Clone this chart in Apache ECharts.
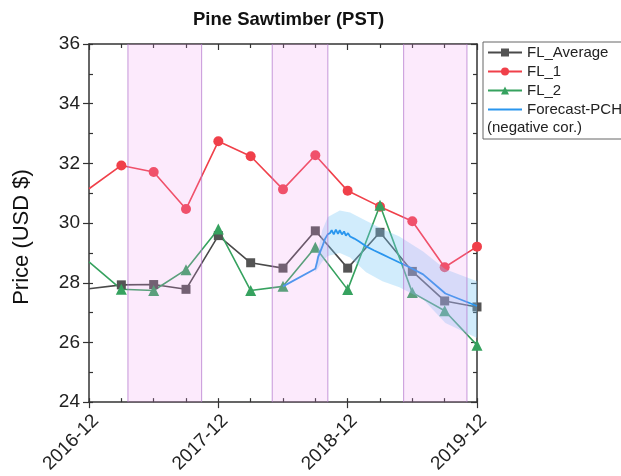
<!DOCTYPE html>
<html><head><meta charset="utf-8">
<script src="https://cdn.jsdelivr.net/npm/echarts@6/dist/echarts.min.js"></script>
<style>html,body{margin:0;padding:0;background:#fff}#c{width:621px;height:476px}</style>
</head><body><div id="c"></div>
<script>
// ---- data ----
const quarterDates = ['2016-12-01','2017-03-01','2017-06-01','2017-09-01','2017-12-01','2018-03-01','2018-06-01','2018-09-01','2018-12-01','2019-03-01','2019-06-01','2019-09-01','2019-12-01'];
const flAverage = [27.80, 27.93, 27.94, 27.78, 29.58, 28.67, 28.49, 29.74, 28.49, 29.69, 28.38, 27.39, 27.19];
const fl1       = [31.15, 31.93, 31.71, 30.47, 32.74, 32.24, 31.13, 32.27, 31.08, 30.55, 30.06, 28.52, 29.21];
const fl2       = [28.70, 27.78, 27.74, 28.44, 29.80, 27.74, 27.88, 29.19, 27.77, 30.60, 27.67, 27.06, 25.91];

const forecastDates = ['2018-06-01','2018-09-01','2018-09-06','2018-09-09','2018-09-20','2018-09-28','2018-10-06','2018-10-12','2018-10-17','2018-10-23','2018-10-29','2018-11-04','2018-11-09','2018-11-15','2018-11-21','2018-11-26','2018-12-02','2018-12-08','2018-12-20','2019-01-03','2019-01-23','2019-02-14','2019-03-08','2019-03-28','2019-04-25','2019-05-24','2019-07-01','2019-09-03','2019-12-01'];
const forecastValues = [27.88, 28.47, 28.70, 28.87, 29.20, 29.47, 29.63, 29.66, 29.76, 29.62, 29.78, 29.64, 29.76, 29.62, 29.72, 29.58, 29.66, 29.55, 29.48, 29.38, 29.22, 29.08, 28.95, 28.84, 28.68, 28.52, 28.28, 27.64, 27.22];

const bandDates = ['2018-09-01','2018-09-20','2018-10-06','2018-11-09','2018-12-08','2019-01-23','2019-03-08','2019-04-25','2019-07-01','2019-09-03','2019-12-01'];
const bandLower = [28.35, 28.70, 28.90, 29.00, 28.85, 28.35, 28.05, 27.85, 27.45, 26.65, 26.15];
const bandUpper = [28.60, 29.75, 30.20, 30.42, 30.35, 30.08, 29.80, 29.55, 29.05, 28.45, 28.05];

const shadeStart = ['2017-03-20','2018-05-01','2019-05-07'];
const shadeEnd   = ['2017-10-15','2018-10-06','2019-11-03'];

const xTickLabels = ['2016-12','2017-12','2018-12','2019-12'];

// ---- helpers ----
function monthPos(s){
  const p = s.split('-').map(Number);
  const dim = new Date(p[0], p[1], 0).getDate();
  return (p[0]-2016)*12 + (p[1]-12) + (p[2]-1)/dim;
}
function pairs(dates, vals, hideFirst){
  return dates.map((d,i)=>{
    const v = [monthPos(d), vals[i]];
    return (hideFirst && i===0) ? {value:v, symbol:'none'} : v;
  });
}

const FONT = 'Liberation Sans, Arial, sans-serif';
const AX = '#333';
const baseX = {type:'value', min:0, max:36, splitLine:{show:false}};
const baseY = {type:'value', min:24, max:36, splitLine:{show:false}};
const LINE_ICON = 'path://M0,0 L0.01,0 L0,0.01 Z M34,10 L33.99,10 L34,9.99 Z M0,4.1 L34,4.1 L34,5.9 L0,5.9 Z';

const chart = echarts.init(document.getElementById('c'), null, {renderer:'canvas'});
chart.setOption({
  animation:false,
  backgroundColor:'#fff',
  textStyle:{fontFamily:FONT},
  title:{text:'Pine Sawtimber (PST)', left:188, top:5,
    textStyle:{fontFamily:FONT, fontSize:18.5, fontWeight:'bold', color:'#111'}},
  grid:{left:89, right:144, top:44, bottom:72},
  legend:{
    orient:'vertical', left:483, top:42,
    padding:[2,2,21,4], itemGap:2, itemWidth:34, itemHeight:10,
    borderColor:'#666', borderWidth:1,
    textStyle:{fontFamily:FONT, fontSize:15, color:'#222', lineHeight:17},
    data:['FL_Average','FL_1','FL_2',{name:'Forecast-PCH', icon:LINE_ICON}]
  },
  graphic:[
    {type:'text', left:487, top:120,
      style:{text:'(negative cor.)', font:'15px '+FONT, fill:'#222'}},
    {type:'text', x:22, y:237, rotation:Math.PI/2,
      style:{text:'Price (USD $)', font:'22px '+FONT, fill:'#111', align:'center', verticalAlign:'middle'}}
  ],
  xAxis:[
    Object.assign({}, baseX, {position:'bottom', interval:12,
      axisLine:{show:true, onZero:false, lineStyle:{color:AX, width:1.5}},
      axisTick:{show:true, inside:false, length:6, lineStyle:{color:AX, width:1.2}},
      axisLabel:{rotate:45, fontSize:19, color:'#222', margin:9, fontFamily:FONT,
        align:'right', verticalAlign:'top',
        formatter:v => xTickLabels[Math.round(v/12)]}}),
    Object.assign({}, baseX, {position:'bottom', interval:3,
      axisLine:{show:false, onZero:false},
      axisTick:{show:true, inside:true, length:4, lineStyle:{color:AX, width:1.2}},
      axisLabel:{show:false}}),
    Object.assign({}, baseX, {position:'top', interval:12,
      axisLine:{show:true, onZero:false, lineStyle:{color:AX, width:1.5}},
      axisTick:{show:true, inside:true, length:6, lineStyle:{color:AX, width:1.2}},
      minorTick:{show:true, splitNumber:4, length:4, lineStyle:{color:AX, width:1.2}},
      axisLabel:{show:false}})
  ],
  yAxis:[
    Object.assign({}, baseY, {position:'left', interval:2,
      axisLine:{show:true, onZero:false, lineStyle:{color:AX, width:1.5}},
      axisTick:{show:true, inside:false, length:6, lineStyle:{color:AX, width:1.2}},
      axisLabel:{fontSize:19, color:'#222', margin:9, fontFamily:FONT}}),
    Object.assign({}, baseY, {position:'left', interval:1,
      axisLine:{show:false, onZero:false},
      axisTick:{show:true, inside:true, length:4, lineStyle:{color:AX, width:1.2}},
      axisLabel:{show:false}}),
    Object.assign({}, baseY, {position:'right', interval:2,
      axisLine:{show:true, onZero:false, lineStyle:{color:AX, width:1.5}},
      axisTick:{show:true, inside:true, length:6, lineStyle:{color:AX, width:1.2}},
      minorTick:{show:true, splitNumber:2, length:4, lineStyle:{color:AX, width:1.2}},
      axisLabel:{show:false}})
  ],
  series:[
    {name:'FL_Average', type:'line', z:2, symbol:'rect', symbolSize:9,
      color:'#545454', lineStyle:{width:1.6, color:'#4a4a4a'}, itemStyle:{color:'#545454'},
      data:pairs(quarterDates, flAverage, true)},
    {name:'FL_1', type:'line', z:2, symbol:'circle', symbolSize:10,
      color:'#f0404a', lineStyle:{width:1.6}, itemStyle:{color:'#f0404a'},
      data:pairs(quarterDates, fl1, true)},
    {name:'FL_2', type:'line', z:2, symbol:'triangle', symbolSize:11,
      color:'#36a25f', lineStyle:{width:1.6}, itemStyle:{color:'#36a25f'},
      data:pairs(quarterDates, fl2, true)},
    {name:'band', type:'custom', z:3, silent:true,
      data:[[monthPos(bandDates[0]), bandLower[0]]],
      renderItem:(params, api)=>{
        const up = bandDates.map((d,i)=>api.coord([monthPos(d), bandUpper[i]]));
        const lo = bandDates.map((d,i)=>api.coord([monthPos(d), bandLower[i]])).reverse();
        return {type:'polygon', shape:{points:up.concat(lo)},
          style:{fill:'rgba(120,200,245,0.34)'}};
      }},
    {name:'Forecast-PCH', type:'line', z:4, symbol:'none',
      color:'#2a96ee', lineStyle:{width:1.8, color:'#2a96ee'},
      data:pairs(forecastDates, forecastValues)},
    {name:'shade', type:'custom', z:10, silent:true,
      data:shadeStart.map((s,i)=>[monthPos(s), monthPos(shadeEnd[i])]),
      encode:{x:[0,1]},
      renderItem:(params, api)=>{
        const a = api.coord([api.value(0), 36]);
        const b = api.coord([api.value(1), 24]);
        return {type:'group', children:[
          {type:'rect', shape:{x:a[0], y:a[1], width:b[0]-a[0], height:b[1]-a[1]},
            style:{fill:'rgba(240,150,240,0.2)'}},
          {type:'line', shape:{x1:a[0], y1:a[1], x2:a[0], y2:b[1]}, style:{stroke:'rgba(180,120,205,0.75)', lineWidth:1}},
          {type:'line', shape:{x1:b[0], y1:a[1], x2:b[0], y2:b[1]}, style:{stroke:'rgba(180,120,205,0.75)', lineWidth:1}}
        ]};
      }}
  ]
});
</script>
</body></html>
